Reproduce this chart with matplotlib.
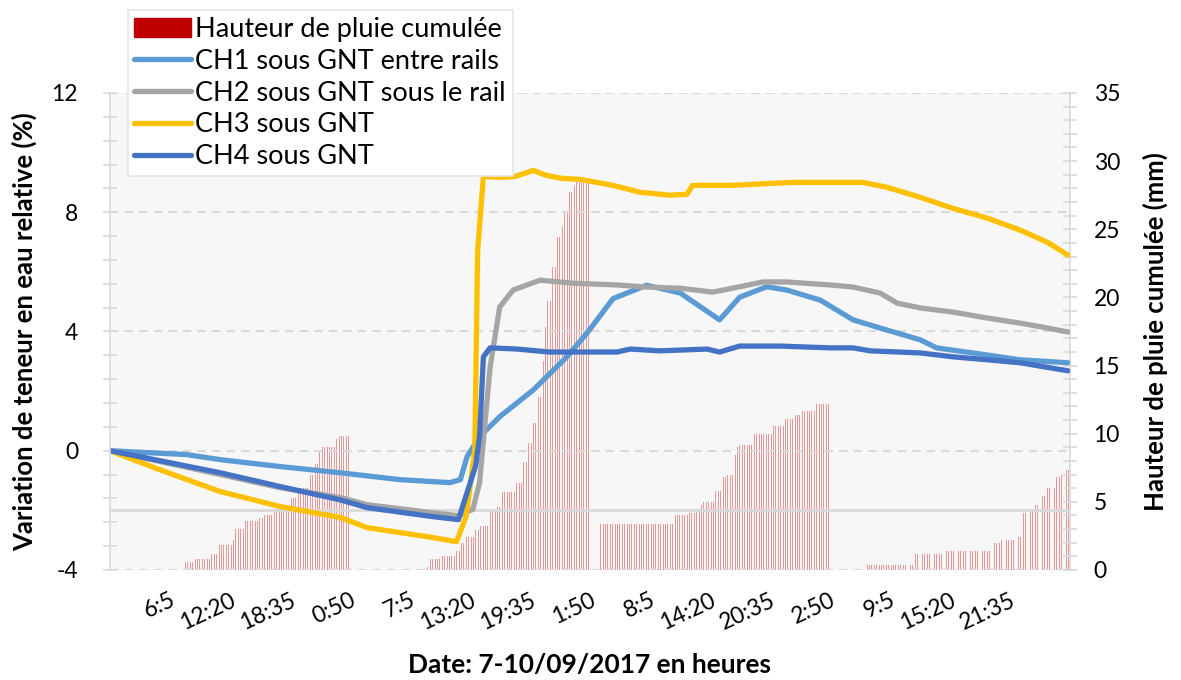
import matplotlib.pyplot as plt
from matplotlib.ticker import MultipleLocator
from matplotlib.patches import Patch
from matplotlib.lines import Line2D
import numpy as np

plt.rcParams['font.family'] = ['Lato', 'DejaVu Sans']
plt.rcParams['axes.unicode_minus'] = False

# time axis in hours from the start of the record (15 min steps for the rain gauge)
tick_hours = [6.25 * k for k in range(1, 16)]
tick_labels = ['6:5', '12:20', '18:35', '0:50', '7:5', '13:20', '19:35', '1:50',
               '8:5', '14:20', '20:35', '2:50', '9:5', '15:20', '21:35']

# cumulative rain (mm), stored as level / number of 15-min steps at that level
rain_levels = [0, 0.6, 0.8, 1.2, 1.8, 2.2, 3.0, 3.6, 3.8, 4.0, 4.3, 4.5, 5.3, 6.0, 7.0,
               7.8, 8.7, 9.0, 9.6, 9.8,
               0, 0.2, 0.8, 1.0, 1.4, 2.0, 2.4, 2.9, 3.2, 4.3, 4.6, 5.7, 6.4, 7.9, 9.3,
               10.8, 12.7, 15.3, 17.8, 19.7, 22.2, 24.4, 25.2, 26.3, 27.7, 28.2, 28.5,
               0, 3.4, 4.0, 4.2, 4.4, 4.8, 5.0, 5.8, 6.8, 7.0, 8.4, 9.0, 9.2, 10.0,
               10.6, 11.1, 11.4, 11.7, 12.2,
               0, 0.4, 1.2, 1.4, 2.0, 2.2, 2.4, 4.2, 4.3, 4.8, 5.4, 6.0, 6.8, 7.0, 7.3]
rain_steps = [31, 4, 7, 3, 6, 1, 4, 6, 2, 4, 1, 6, 3, 5, 2, 2, 1, 6, 1, 5,
              32, 1, 5, 6, 2, 2, 4, 2, 4, 3, 2, 6, 3, 2, 2, 2, 2, 1, 1, 2, 2, 2,
              1, 2, 2, 1, 6,
              4, 31, 6, 3, 2, 1, 5, 3, 2, 3, 1, 1, 6, 8, 5, 4, 3, 6, 6,
              15, 20, 12, 21, 3, 6, 3, 3, 2, 3, 2, 4, 2, 1, 3]

# relative water content variation (%), sampled at the hours given
ch1_h = [0, 8.0, 11.5, 17.7, 24.0, 30.2, 35.4, 36.5, 37.2, 38.5, 40.6, 44.1, 47.6,
         49.7, 52.4, 55.9, 59.4, 63.5, 65.6, 68.4, 70.5, 74.0, 77.4, 80.9, 84.4,
         86.1, 91.4, 94.8, 99.8]
ch1_v = [0, -0.13, -0.3, -0.53, -0.74, -0.97, -1.07, -0.97, -0.2, 0.47, 1.14, 2.04,
         3.15, 3.95, 5.1, 5.55, 5.29, 4.39, 5.15, 5.5, 5.39, 5.05, 4.39, 4.05, 3.72,
         3.45, 3.21, 3.05, 2.95]

ch2_h = [0, 11.5, 17.7, 24.0, 26.8, 33.6, 36.3, 37.8, 38.5, 39.6, 40.6, 42.0, 44.8,
         48.2, 52.8, 55.9, 59.4, 62.8, 65.6, 68.0, 70.5, 75.0, 77.4, 80.2, 82.0,
         84.4, 87.8, 91.4, 94.8, 97.6, 99.8]
ch2_v = [0, -0.8, -1.24, -1.57, -1.81, -2.08, -2.18, -1.97, -1.07, 2.81, 4.82, 5.39,
         5.72, 5.62, 5.56, 5.49, 5.45, 5.32, 5.5, 5.66, 5.66, 5.56, 5.49, 5.29, 4.95,
         4.79, 4.65, 4.45, 4.28, 4.12, 3.98]

ch3_h = [0, 5.2, 11.5, 17.7, 24.0, 26.8, 33.6, 36.1, 37.1, 38.0, 38.3, 38.9, 40.6,
         42.2, 44.1, 45.3, 46.9, 49.0, 52.4, 55.2, 58.3, 60.1, 60.7, 64.6, 71.1,
         75.0, 78.4, 80.9, 84.4, 87.8, 91.4, 94.8, 97.6, 99.8]
ch3_v = [0, -0.64, -1.37, -1.87, -2.24, -2.58, -2.91, -3.05, -2.2, 0, 6.7, 9.2, 9.17,
         9.2, 9.4, 9.25, 9.14, 9.1, 8.9, 8.67, 8.57, 8.6, 8.9, 8.9, 9.0, 9.0, 9.0,
         8.84, 8.5, 8.13, 7.8, 7.4, 7.0, 6.56]

ch4_h = [0, 11.5, 17.7, 24.0, 26.8, 33.6, 36.3, 37.5, 38.1, 38.5, 38.9, 39.6, 42.4,
         45.8, 52.8, 54.2, 57.3, 62.2, 63.5, 65.6, 69.8, 75.0, 77.4, 79.2, 84.4,
         87.8, 91.4, 94.8, 99.8]
ch4_v = [0, -0.74, -1.2, -1.65, -1.91, -2.21, -2.31, -1.1, -0.5, 0.5, 3.15, 3.45,
         3.41, 3.31, 3.31, 3.41, 3.35, 3.41, 3.31, 3.51, 3.51, 3.45, 3.45, 3.35, 3.28,
         3.15, 3.05, 2.95, 2.68]

rain = np.repeat(rain_levels, rain_steps)
rain_t = (np.arange(len(rain)) + 0.5) * 0.25

fig = plt.figure(figsize=(11.81, 6.8), dpi=100)
ax = fig.add_axes([0.0931, 0.1618, 0.8129, 0.7015])
ax2 = ax.twinx()
ax.set_zorder(ax2.get_zorder() + 1)
ax.patch.set_visible(False)
ax2.patch.set_visible(True)
ax2.set_facecolor('#F7F7F7')

grey = '#D9D9D9'

# rain bars on the right axis
ax2.bar(rain_t, rain, width=0.1, color='#C00000', alpha=0.38, linewidth=0)
ax2.set_ylim(0, 35)
ax2.set_yticks(range(0, 36, 5))
ax2.yaxis.set_minor_locator(MultipleLocator(1))
ax2.tick_params(axis='y', which='both', direction='inout', length=10, width=1.2,
                color=grey, labelsize=16.5, pad=12)
for s in ['left', 'top', 'bottom']:
    ax2.spines[s].set_visible(False)
ax2.spines['right'].set_color(grey)
ax2.spines['right'].set_linewidth(1.2)
ax2.set_ylabel('Hauteur de pluie cumulée (mm)', fontsize=18.5, fontweight='bold',
               labelpad=16)

# water content lines on the left axis
lw = 3.8
ax.plot(ch1_h, ch1_v, color='#5B9BD5', lw=lw, solid_capstyle='round', solid_joinstyle='round')
ax.plot(ch2_h, ch2_v, color='#A5A5A5', lw=lw, solid_capstyle='round', solid_joinstyle='round')
ax.plot(ch3_h, ch3_v, color='#FFC000', lw=lw, solid_capstyle='round', solid_joinstyle='round')
ax.plot(ch4_h, ch4_v, color='#4472C4', lw=lw, solid_capstyle='round', solid_joinstyle='round')
ax.axhline(-2, color=grey, lw=2, zorder=1.6)

ax.set_xlim(0, 100)
ax.set_ylim(-4, 12)
ax.set_yticks([-4, 0, 4, 8, 12])
ax.yaxis.set_minor_locator(MultipleLocator(0.8))
ax.grid(axis='y', which='major', color=grey, lw=1.5, ls=(0, (4, 3)))
ax.tick_params(axis='y', which='both', direction='inout', length=10, width=1.2,
               color=grey, labelsize=16.5, pad=18)
ax.set_xticks(tick_hours)
ax.set_xticklabels(tick_labels, rotation=25, ha='right', rotation_mode='anchor')
ax.tick_params(axis='x', length=0, labelsize=16.5, pad=14)
for s in ['right', 'top', 'bottom']:
    ax.spines[s].set_visible(False)
ax.spines['left'].set_color(grey)
ax.spines['left'].set_linewidth(1.2)
ax.set_ylabel('Variation de teneur en eau relative (%)', fontsize=18.5,
              fontweight='bold')
ax.yaxis.set_label_coords(-0.076, 0.5)
ax.set_xlabel('Date: 7-10/09/2017 en heures', fontsize=19, fontweight='bold',
              labelpad=14)

handles = [Patch(color='#C00000'),
           Line2D([], [], color='#5B9BD5', lw=lw, solid_capstyle='round'),
           Line2D([], [], color='#A5A5A5', lw=lw, solid_capstyle='round'),
           Line2D([], [], color='#FFC000', lw=lw, solid_capstyle='round'),
           Line2D([], [], color='#4472C4', lw=lw, solid_capstyle='round')]
labels = ['Hauteur de pluie cumulée', 'CH1 sous GNT entre rails',
          'CH2 sous GNT sous le rail', 'CH3 sous GNT', 'CH4 sous GNT']
leg = fig.legend(handles, labels, loc='upper left', bbox_to_anchor=(0.108, 0.985),
                 fontsize=19.5, frameon=True, fancybox=False, framealpha=1,
                 edgecolor='#E6E6E6', borderpad=0.25, labelspacing=0.25,
                 handlelength=2.1, handletextpad=0.15, borderaxespad=0)
leg.get_frame().set_linewidth(1.2)

fig.savefig('out.png', dpi=100)
